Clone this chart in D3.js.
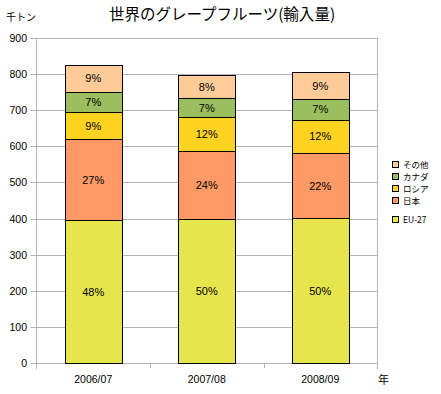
<!DOCTYPE html>
<html>
<head>
<meta charset="utf-8">
<script src="https://cdn.jsdelivr.net/npm/d3@7"></script>
<style>
  body { margin: 0; background: #fff; }
  text { font-family: "Liberation Sans", "Noto Sans CJK JP", sans-serif; }
  .jp { font-family: "Noto Sans CJK JP", sans-serif; }
</style>
</head>
<body>
<div id="chart"></div>
<script>
const width = 441, height = 394;
const margin = { top: 38, right: 64, bottom: 31, left: 36.5 };

// data
const years = ["2006/07", "2007/08", "2008/09"];
const seriesNames = ["EU-27", "日本", "ロシア", "カナダ", "その他"];
const eu27   = [396, 399, 401];
const japan  = [223, 189, 180];
const russia = [76, 92, 93];
const canada = [56, 53, 57];
const other  = [75, 65, 74];
const colors = ["#e6e64c", "#ff9966", "#ffd320", "#9bbf5f", "#ffcc99"];
const yTicks = [0, 100, 200, 300, 400, 500, 600, 700, 800, 900];

const seriesValues = [eu27, japan, russia, canada, other];
const rows = years.map((yr, i) => {
  const r = { year: yr };
  seriesNames.forEach((s, j) => r[s] = seriesValues[j][i]);
  return r;
});
const stacked = d3.stack().keys(seriesNames)(rows);

const svg = d3.select("#chart").append("svg")
  .attr("width", width)
  .attr("height", height);

const x = d3.scaleBand()
  .domain(years)
  .range([margin.left, width - margin.right])
  .paddingInner(0.5)
  .paddingOuter(0.25);

const y = d3.scaleLinear()
  .domain([0, 900])
  .range([height - margin.bottom, margin.top]);

// grid
svg.append("g")
  .selectAll("line")
  .data(yTicks)
  .join("line")
  .attr("x1", margin.left - 6)
  .attr("x2", width - margin.right)
  .attr("y1", d => Math.round(y(d)) + 0.5)
  .attr("y2", d => Math.round(y(d)) + 0.5)
  .attr("stroke", "#b3b3b3");

// right border + left axis line
svg.append("line")
  .attr("x1", width - margin.right + 0.5).attr("x2", width - margin.right + 0.5)
  .attr("y1", y(900)).attr("y2", y(0) + 6)
  .attr("stroke", "#b3b3b3");
svg.append("line")
  .attr("x1", margin.left).attr("x2", margin.left)
  .attr("y1", y(900)).attr("y2", y(0) + 6)
  .attr("stroke", "#b3b3b3");

// category ticks
const step = x.step();
svg.append("g")
  .selectAll("line")
  .data(d3.range(1, years.length))
  .join("line")
  .attr("x1", i => Math.round(margin.left + i * step) + 0.5)
  .attr("x2", i => Math.round(margin.left + i * step) + 0.5)
  .attr("y1", y(0))
  .attr("y2", y(0) + 5)
  .attr("stroke", "#b3b3b3");

// y labels
svg.append("g")
  .selectAll("text")
  .data(yTicks)
  .join("text")
  .attr("x", 27)
  .attr("y", d => y(d) + 4)
  .attr("text-anchor", "end")
  .attr("font-size", 10.5)
  .text(d => d);

// bars
const layer = svg.append("g")
  .selectAll("g")
  .data(stacked)
  .join("g")
  .attr("fill", (d, i) => colors[i]);

layer.selectAll("rect")
  .data(d => d)
  .join("rect")
  .attr("x", d => Math.round(x(d.data.year)) + 0.5)
  .attr("y", d => Math.round(y(d[1])) + 0.5)
  .attr("width", Math.round(x.bandwidth()))
  .attr("height", d => Math.round(y(d[0])) - Math.round(y(d[1])))
  .attr("stroke", "#000")
  .attr("stroke-width", 1);

// percentage labels
layer.selectAll("text")
  .data(d => d)
  .join("text")
  .attr("x", d => x(d.data.year) + x.bandwidth() / 2)
  .attr("y", d => (y(d[0]) + y(d[1])) / 2 + 4)
  .attr("text-anchor", "middle")
  .attr("font-size", 11)
  .attr("fill", "#000")
  .text(d => {
    const total = d3.sum(seriesNames, s => d.data[s]);
    return Math.round((d[1] - d[0]) / total * 100) + "%";
  });

// x labels
svg.append("g")
  .selectAll("text")
  .data(years)
  .join("text")
  .attr("x", d => x(d) + x.bandwidth() / 2)
  .attr("y", 383)
  .attr("text-anchor", "middle")
  .attr("font-size", 10.5)
  .text(d => d);

// title and units
svg.append("text").attr("class", "jp")
  .attr("x", 222).attr("y", 20)
  .attr("text-anchor", "middle")
  .attr("font-size", 15.5)
  .text("世界のグレープフルーツ(輸入量)");
svg.append("text").attr("class", "jp")
  .attr("x", 6).attr("y", 21)
  .attr("font-size", 10)
  .text("千トン");
svg.append("text").attr("class", "jp")
  .attr("x", 378).attr("y", 384)
  .attr("font-size", 11)
  .text("年");

// legend (reverse order)
const legendY = [165, 177, 189, 201, 220];
const legend = svg.append("g")
  .selectAll("g")
  .data(seriesNames.slice().reverse())
  .join("g")
  .attr("transform", (d, i) => `translate(392,${legendY[i]})`);

legend.append("rect")
  .attr("x", 0.5).attr("y", -3.5)
  .attr("width", 6).attr("height", 6)
  .attr("fill", d => colors[seriesNames.indexOf(d)])
  .attr("stroke", "#000");

legend.append("text").attr("class", "jp")
  .attr("x", 11).attr("y", 3)
  .attr("font-size", 8.5)
  .text(d => d);
</script>
</body>
</html>
